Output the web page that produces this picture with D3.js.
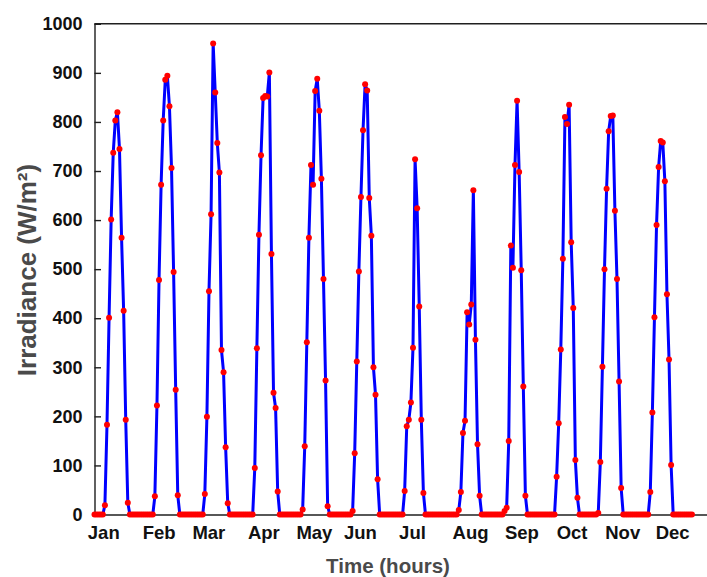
<!DOCTYPE html>
<html>
<head>
<meta charset="utf-8">
<script src="https://cdn.jsdelivr.net/npm/d3@7"></script>
<style>
  html, body { margin: 0; padding: 0; background: #fff; }
  svg { display: block; }
  text { font-family: "Liberation Sans", Arial, Helvetica, sans-serif; font-weight: bold; }
</style>
</head>
<body>
<svg id="chart" width="707" height="577"></svg>
<script>
// Hourly solar irradiance (W/m²), one representative day per month, 24 hourly samples each
const months = ["Jan", "Feb", "Mar", "Apr", "May", "Jun", "Jul", "Aug", "Sep", "Oct", "Nov", "Dec"];
const irrJan = [0,0,0,0,0, 19,183,401,601,737,803,820,745,564,415,193,24, 0,0,0,0,0,0,0];
const irrFeb = [0,0,0,0,0, 37,222,478,672,803,886,894,832,706,494,254,39, 0,0,0,0,0,0,0];
const irrMar = [0,0,0,0,0, 42,199,455,612,960,860,757,697,335,290,137,23, 0,0,0,0,0,0,0];
const irrApr = [0,0,0,0,0, 95,339,570,732,849,853,852,901,531,248,217,47, 0,0,0,0,0,0,0];
const irrMay = [0,0,0,0, 10,139,351,564,712,672,863,888,823,684,480,273,17, 0,0,0,0,0,0,0];
const irrJun = [0,0,0,0, 7,125,312,495,647,783,877,864,645,568,300,244,72, 0,0,0,0,0,0,0];
const irrJul = [0,0,0,0,0, 48,180,193,228,340,724,624,424,193,44, 0,0,0,0,0,0,0,0,0];
const irrAug = [0,0,0,0,0,0,0, 9,46,166,191,412,387,428,661,356,143,38, 0,0,0,0,0,0];
const irrSep = [0,0,0,0,0, 7,14,150,548,503,712,843,698,498,261,38, 0,0,0,0,0,0,0,0];
const irrOct = [0,0,0,0,0,0, 77,186,336,521,810,796,835,555,421,111,34, 0,0,0,0,0,0,0];
const irrNov = [0,0, 3,107,301,500,664,781,812,813,619,480,271,54, 0,0,0,0,0,0,0,0,0,0];
const irrDec = [0,0,0, 46,208,402,590,708,761,758,679,449,316,101, 0,0,0,0,0,0,0,0,0,0];

// Positions (in hours) where the month names sit along the time axis
const monthTickHours = [4.2, 30.8, 54.7, 81.1, 105.4, 127.5, 152.5, 180.4, 205.1, 229.2, 253.5, 277.5];
const yTicks = [0, 100, 200, 300, 400, 500, 600, 700, 800, 900, 1000];

const daily = [irrJan, irrFeb, irrMar, irrApr, irrMay, irrJun, irrJul, irrAug, irrSep, irrOct, irrNov, irrDec];
const series = daily.flat().map((v, i) => ({ hour: i, value: v }));

const svg = d3.select("#chart");
const plotLeft = 94.5, plotRight = 706.5, plotTop = 23.8, plotBottom = 514.5;

const x = d3.scaleLinear().domain([0, 294]).range([plotLeft, plotRight]);
const y = d3.scaleLinear().domain([0, 1000]).range([plotBottom, plotTop]);

const axisColor = "#1f1f1f";

// Y axis: ticks pointing inward, labels on the left
const yAxis = d3.axisLeft(y).tickValues(yTicks).tickSize(-6.5).tickPadding(12).tickFormat(d3.format("d"));
const gy = svg.append("g").attr("transform", `translate(${plotLeft},0)`).call(yAxis);
gy.select(".domain").attr("stroke", axisColor).attr("stroke-width", 1.4);
gy.selectAll(".tick line").attr("stroke", axisColor).attr("stroke-width", 1.4);
gy.selectAll(".tick text")
  .attr("fill", "#111")
  .style("font-size", "18px")
  .style("font-family", "'Liberation Sans', Arial, sans-serif")
  .style("font-weight", "bold");

// X axis: month names only, no tick marks
const xAxis = d3.axisBottom(x).tickValues(monthTickHours).tickSize(0).tickPadding(11)
  .tickFormat((d, i) => months[i]);
const gx = svg.append("g").attr("transform", `translate(0,${plotBottom})`).call(xAxis);
gx.select(".domain").attr("stroke", axisColor).attr("stroke-width", 1.4);
gx.selectAll(".tick text")
  .attr("fill", "#111")
  .style("font-size", "18.5px")
  .style("font-family", "'Liberation Sans', Arial, sans-serif")
  .style("font-weight", "bold");

// Top border of the plot box
svg.append("line")
  .attr("x1", plotLeft).attr("x2", plotRight + 1)
  .attr("y1", plotTop).attr("y2", plotTop)
  .attr("stroke", axisColor).attr("stroke-width", 1.4);

// Irradiance curve
const line = d3.line().x(d => x(d.hour)).y(d => y(d.value));
svg.append("path")
  .datum(series)
  .attr("fill", "none")
  .attr("stroke", "#0000ff")
  .attr("stroke-width", 3)
  .attr("stroke-linejoin", "round")
  .attr("d", line);

// Hourly markers
svg.append("g")
  .selectAll("circle")
  .data(series)
  .join("circle")
  .attr("cx", d => x(d.hour))
  .attr("cy", d => y(d.value))
  .attr("r", 3)
  .attr("fill", "#ff0000");

// Axis titles
svg.append("text")
  .attr("x", 388).attr("y", 573)
  .attr("text-anchor", "middle")
  .attr("fill", "#4a4a4a")
  .style("font-size", "20.5px")
  .text("Time (hours)");

svg.append("text")
  .attr("transform", "translate(36,270) rotate(-90)")
  .attr("text-anchor", "middle")
  .attr("fill", "#4a4a4a")
  .style("font-size", "26px")
  .text("Irradiance (W/m²)");
</script>
</body>
</html>
